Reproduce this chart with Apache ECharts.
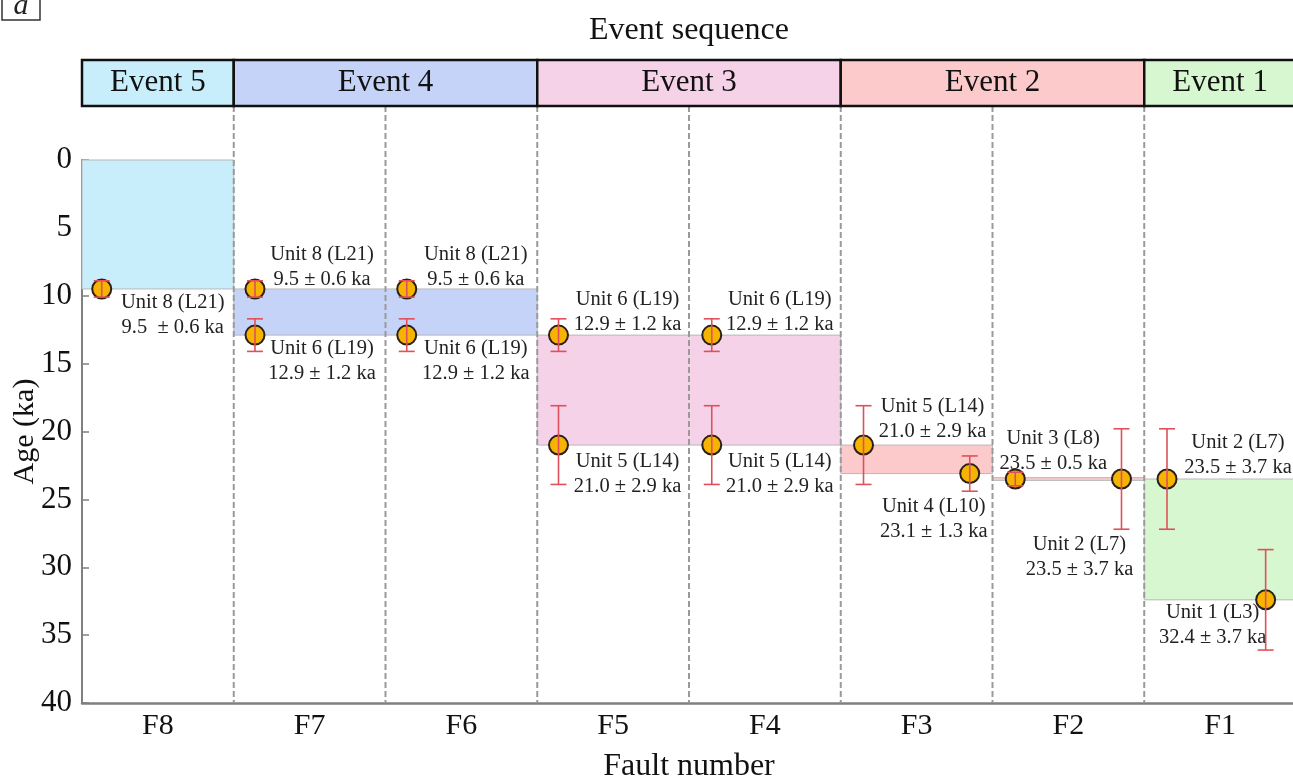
<!DOCTYPE html>
<html>
<head>
<meta charset="utf-8">
<script src="https://cdn.jsdelivr.net/npm/echarts@6/dist/echarts.min.js"></script>
<style>
  html, body { margin: 0; padding: 0; background: #fff; }
  #chart { width: 1293px; height: 781px; }
</style>
</head>
<body>
<div id="chart"></div>
<script>
const faults = ['F8', 'F7', 'F6', 'F5', 'F4', 'F3', 'F2', 'F1'];

// events across the top: name, first column, last column (exclusive)
const eventNames = ['Event 5', 'Event 4', 'Event 3', 'Event 2', 'Event 1'];
const eventStart = [0, 1, 3, 5, 7];
const eventEnd = [1, 3, 5, 7, 8];
const eventColors = ['#c9eefb', '#c4d3f7', '#f6d2e8', '#fccaca', '#d7f7d0'];

// shaded age windows: column from/to, age from/to, event index
const bandX0 = [0, 1, 3, 5, 6, 7];
const bandX1 = [1, 3, 5, 6, 7, 8];
const bandAge0 = [0, 9.5, 12.9, 21.0, 23.4, 23.5];
const bandAge1 = [9.5, 12.9, 21.0, 23.1, 23.6, 32.4];
const bandEvent = [0, 1, 2, 3, 3, 4];

// dated samples (x in column units, age and 1-sigma error in ka)
const sampleX = [0.13, 1.14, 1.14, 2.14, 2.14, 3.14, 3.14, 4.15, 4.15, 5.15, 5.85, 6.15, 6.85, 7.15, 7.8];
const sampleAge = [9.5, 9.5, 12.9, 9.5, 12.9, 12.9, 21.0, 12.9, 21.0, 21.0, 23.1, 23.5, 23.5, 23.5, 32.4];
const sampleErr = [0.6, 0.6, 1.2, 0.6, 1.2, 1.2, 2.9, 1.2, 2.9, 2.9, 1.3, 0.5, 3.7, 3.7, 3.7];
const sampleLabel = [
  'Unit 8 (L21)\n9.5  ± 0.6 ka',
  'Unit 8 (L21)\n9.5 ± 0.6 ka',
  'Unit 6 (L19)\n12.9 ± 1.2 ka',
  'Unit 8 (L21)\n9.5 ± 0.6 ka',
  'Unit 6 (L19)\n12.9 ± 1.2 ka',
  'Unit 6 (L19)\n12.9 ± 1.2 ka',
  'Unit 5 (L14)\n21.0 ± 2.9 ka',
  'Unit 6 (L19)\n12.9 ± 1.2 ka',
  'Unit 5 (L14)\n21.0 ± 2.9 ka',
  'Unit 5 (L14)\n21.0 ± 2.9 ka',
  'Unit 4 (L10)\n23.1 ± 1.3 ka',
  'Unit 3 (L8)\n23.5 ± 0.5 ka',
  'Unit 2 (L7)\n23.5 ± 3.7 ka',
  'Unit 2 (L7)\n23.5 ± 3.7 ka',
  'Unit 1 (L3)\n32.4 ± 3.7 ka'
];

const ageTicks = [0, 5, 10, 15, 20, 25, 30, 35, 40];

// where each label sits relative to its point (px)
const labelOffsets = [
  [71, 26], [67, -22], [67, 26], [69, -22], [69, 26],
  [69, -23], [69, 29], [68, -23], [68, 29],
  [69, -26], [-36, 46], [38, -28], [-42, 78], [71, -24], [-53, 25]
];

const FONT = '"Liberation Serif", "DejaVu Serif", serif';
const chart = echarts.init(document.getElementById('chart'));

const option = {
  animation: false,
  textStyle: { fontFamily: FONT },
  graphic: [
    { type: 'rect', shape: { x: 2, y: -14, width: 38, height: 34 }, style: { fill: '#fff', stroke: '#333', lineWidth: 1.5 } },
    { type: 'text', x: 21, y: 6, style: { text: 'a', font: 'italic 30px ' + FONT, fill: '#222', align: 'center', verticalAlign: 'middle' } }
  ],
  grid: [
    { left: 82, right: -3, top: 160, bottom: 78, containLabel: false, outerBoundsMode: 'none' },
    { left: 82, right: -3, top: 60, height: 46, containLabel: false, outerBoundsMode: 'none' }
  ],
  xAxis: [
    {
      type: 'category', gridIndex: 0, data: faults, boundaryGap: true, position: 'bottom',
      axisLine: { onZero: false, lineStyle: { color: '#808080', width: 2.5 } },
      axisTick: { show: false },
      axisLabel: { fontSize: 30, color: '#111', margin: 8, fontFamily: FONT },
      name: 'Fault number', nameLocation: 'middle', nameGap: 48,
      nameTextStyle: { fontSize: 32, color: '#111', fontFamily: FONT }
    },
    {
      type: 'value', gridIndex: 0, min: 0, max: faults.length, show: false
    },
    {
      type: 'value', gridIndex: 1, min: 0, max: faults.length, position: 'top',
      axisLine: { show: false }, axisTick: { show: false }, axisLabel: { show: false }, splitLine: { show: false },
      name: 'Event sequence', nameLocation: 'middle', nameGap: 13,
      nameTextStyle: { fontSize: 32, color: '#111', fontFamily: FONT }
    }
  ],
  yAxis: [
    {
      type: 'value', gridIndex: 0, inverse: true, min: 0, max: 40, interval: 5,
      axisLine: { show: true, onZero: false, lineStyle: { color: '#808080', width: 2 } },
      axisTick: { show: true, inside: true, length: 7, lineStyle: { color: '#808080', width: 1.5 } },
      splitLine: { show: false },
      axisLabel: {
        fontSize: 31, color: '#111', margin: 10, fontFamily: FONT,
        formatter: v => (ageTicks.includes(v) ? String(v) : '')
      },
      name: 'Age (ka)', nameLocation: 'middle', nameGap: 42, nameMoveOverlap: false,
      nameTextStyle: { fontSize: 30, color: '#111', fontFamily: FONT }
    },
    { type: 'value', gridIndex: 1, min: 0, max: 1, show: false }
  ],
  series: [
    {
      // shaded event windows
      type: 'custom', xAxisIndex: 1, yAxisIndex: 0, z: 1,
      data: bandX0.map((x0, i) => [x0, bandX1[i], bandAge0[i], bandAge1[i], bandEvent[i]]),
      renderItem: (params, api) => {
        const p0 = api.coord([api.value(0), api.value(2)]);
        const p1 = api.coord([api.value(1), api.value(3)]);
        return {
          type: 'rect',
          shape: { x: p0[0], y: p0[1], width: p1[0] - p0[0], height: p1[1] - p0[1] },
          style: { fill: eventColors[api.value(4)], stroke: '#b8b8b8', lineWidth: 1 }
        };
      }
    },
    {
      // dashed column separators, reaching up to the event boxes
      type: 'custom', xAxisIndex: 1, yAxisIndex: 0, z: 2, clip: false,
      data: faults.slice(1).map((_, i) => [i + 1]),
      renderItem: (params, api) => {
        const top = api.coord([api.value(0), 0]);
        const bot = api.coord([api.value(0), 40]);
        return {
          type: 'line',
          shape: { x1: top[0], y1: top[1] - 54, x2: bot[0], y2: bot[1] },
          style: { stroke: '#9a9a9a', lineWidth: 2, lineDash: [6, 3] }
        };
      }
    },
    {
      // event header boxes
      type: 'custom', xAxisIndex: 2, yAxisIndex: 1, z: 3, clip: false,
      data: eventNames.map((n, i) => [eventStart[i], eventEnd[i], i]),
      renderItem: (params, api) => {
        const i = api.value(2);
        const p0 = api.coord([api.value(0), 1]);
        const p1 = api.coord([api.value(1), 0]);
        return {
          type: 'rect',
          shape: { x: p0[0], y: p0[1], width: p1[0] - p0[0], height: p1[1] - p0[1] },
          style: { fill: eventColors[i], stroke: '#111', lineWidth: 2.5 },
          textContent: {
            style: { text: eventNames[i], font: '31px ' + FONT, fill: '#111' }
          },
          textConfig: { position: 'inside' }
        };
      }
    },
    {
      type: 'scatter', xAxisIndex: 1, yAxisIndex: 0, z: 4,
      symbol: 'circle', symbolSize: 19,
      itemStyle: { color: '#f6b400', borderColor: '#2a2018', borderWidth: 2, opacity: 1 },
      data: sampleX.map((x, i) => ({
        value: [x, sampleAge[i]],
        label: {
          show: true, position: 'inside', offset: labelOffsets[i],
          formatter: sampleLabel[i], fontSize: 20.5, lineHeight: 25,
          color: '#222', fontFamily: FONT, align: 'center', verticalAlign: 'middle'
        }
      }))
    },
    {
      // error bars
      type: 'custom', xAxisIndex: 1, yAxisIndex: 0, z: 5,
      data: sampleX.map((x, i) => [x, sampleAge[i] - sampleErr[i], sampleAge[i] + sampleErr[i]]),
      renderItem: (params, api) => {
        const hi = api.coord([api.value(0), api.value(1)]);
        const lo = api.coord([api.value(0), api.value(2)]);
        const w = 8;
        const st = { stroke: '#e0505a', lineWidth: 1.6 };
        return {
          type: 'group',
          children: [
            { type: 'line', shape: { x1: hi[0], y1: hi[1], x2: lo[0], y2: lo[1] }, style: st },
            { type: 'line', shape: { x1: hi[0] - w, y1: hi[1], x2: hi[0] + w, y2: hi[1] }, style: st },
            { type: 'line', shape: { x1: lo[0] - w, y1: lo[1], x2: lo[0] + w, y2: lo[1] }, style: st }
          ]
        };
      }
    }
  ]
};

chart.setOption(option);
</script>
</body>
</html>
